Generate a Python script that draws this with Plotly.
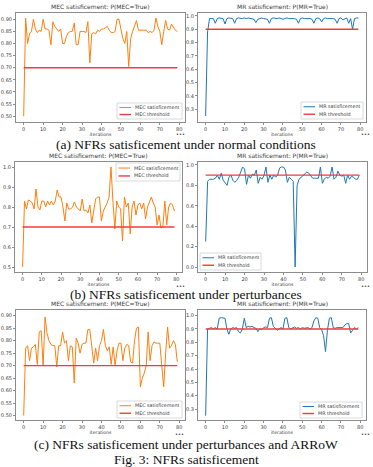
import plotly.graph_objects as go

# ---------------- data ----------------
iterations = list(range(80))

mec_normal = [0.50, 0.905, 0.80, 0.84, 0.85, 0.90, 0.86, 0.845, 0.855, 0.85,
              0.90, 0.86, 0.86, 0.855, 0.795, 0.89, 0.87, 0.86, 0.85, 0.86,
              0.80, 0.80, 0.83, 0.845, 0.85, 0.85, 0.885, 0.795, 0.795, 0.85,
              0.85, 0.85, 0.845, 0.89, 0.72, 0.84, 0.845, 0.84, 0.855, 0.85,
              0.86, 0.86, 0.865, 0.87, 0.855, 0.845, 0.845, 0.85, 0.90, 0.90,
              0.86, 0.82, 0.80, 0.85, 0.705, 0.82, 0.85, 0.87, 0.895, 0.855,
              0.855, 0.855, 0.855, 0.855, 0.845, 0.85, 0.845, 0.855, 0.905, 0.87,
              0.85, 0.795, 0.85, 0.895, 0.86, 0.855, 0.88, 0.865, 0.855, 0.85]

mr_normal = [0.25, 0.88, 0.98, 0.98, 0.98, 0.945, 0.98, 0.985, 0.98, 0.98,
             0.94, 0.98, 0.985, 0.98, 0.98, 0.945, 0.98, 0.985, 0.98, 0.98,
             0.985, 0.98, 0.985, 0.98, 0.98, 0.975, 0.95, 0.975, 0.98, 0.985,
             0.98, 0.98, 0.975, 0.945, 0.98, 0.985, 0.98, 0.98, 0.985, 0.98,
             0.975, 0.98, 0.985, 0.98, 0.98, 0.985, 0.98, 0.975, 0.945, 0.98,
             0.985, 0.98, 0.98, 0.985, 0.98, 0.975, 0.945, 0.98, 0.985, 0.98,
             0.955, 0.98, 0.985, 0.98, 0.98, 0.985, 0.98, 0.975, 0.945, 0.98,
             0.985, 0.97, 0.98, 0.985, 0.945, 0.98, 0.90, 0.98, 0.985, 0.985]

mec_perturb = [0.50, 0.83, 0.79, 0.835, 0.83, 0.82, 0.79, 0.89, 0.80, 0.785,
               0.83, 0.83, 0.80, 0.83, 0.81, 0.83, 0.81, 0.83, 0.885, 0.85,
               0.85, 0.80, 0.73, 0.82, 0.79, 0.79, 0.80, 0.825, 0.80, 0.79,
               0.78, 0.84, 0.78, 0.785, 0.77, 0.81, 0.72, 0.78, 0.84, 0.85,
               0.85, 0.73, 0.78, 0.80, 0.82, 0.85, 1.00, 0.83, 0.69, 0.83,
               0.80, 0.79, 0.63, 0.85, 0.80, 0.82, 0.665, 0.80, 0.83, 0.76,
               0.81, 0.82, 0.79, 0.82, 0.74, 0.80, 0.83, 0.85, 0.82, 0.80,
               0.71, 0.76, 0.695, 0.70, 0.83, 0.71, 0.80, 0.82, 0.81, 0.78]

mr_perturb = [0.25, 0.84, 0.86, 0.86, 0.86, 0.87, 0.90, 0.86, 0.92, 0.85,
              0.82, 0.80, 0.88, 0.90, 0.85, 0.83, 0.85, 0.88, 0.93, 0.98,
              0.96, 0.81, 0.90, 0.87, 0.91, 0.90, 0.95, 0.82, 0.88, 0.86,
              0.90, 0.98, 0.83, 0.90, 0.86, 0.90, 0.88, 0.90, 0.97, 0.98,
              0.98, 0.95, 0.83, 0.88, 0.86, 0.84, 0.00, 0.80, 0.86, 0.88,
              0.90, 0.92, 0.93, 0.92, 0.90, 0.87, 0.87, 0.87, 0.87, 0.98,
              0.82, 0.86, 0.88, 0.87, 0.89, 0.98, 0.86, 0.88, 0.94, 0.90,
              0.89, 0.90, 0.82, 0.90, 0.86, 0.89, 0.88, 0.86, 0.86, 0.90]

mec_arrow = [0.50, 0.77, 0.78, 0.72, 0.77, 0.775, 0.785, 0.705, 0.835, 0.84,
             0.70, 0.895, 0.83, 0.80, 0.785, 0.78, 0.78, 0.695, 0.78, 0.78,
             0.835, 0.79, 0.80, 0.72, 0.78, 0.775, 0.63, 0.81, 0.79, 0.75,
             0.785, 0.79, 0.79, 0.845, 0.845, 0.78, 0.71, 0.77, 0.72, 0.78,
             0.80, 0.845, 0.78, 0.76, 0.775, 0.705, 0.775, 0.70, 0.76, 0.79,
             0.79, 0.72, 0.77, 0.785, 0.78, 0.715, 0.71, 0.80, 0.85, 0.855,
             0.615, 0.65, 0.67, 0.70, 0.835, 0.72, 0.78, 0.795, 0.79, 0.79,
             0.79, 0.70, 0.615, 0.75, 0.855, 0.77, 0.78, 0.80, 0.785, 0.715]

mr_arrow = [0.25, 0.90, 0.905, 0.91, 0.90, 0.91, 0.90, 0.98, 0.985, 0.985,
            0.98, 0.90, 0.86, 0.90, 0.91, 0.905, 0.91, 0.88, 0.87, 0.90,
            0.98, 0.91, 0.92, 0.915, 0.92, 0.91, 0.905, 0.88, 0.90, 0.895,
            0.91, 0.915, 0.91, 0.98, 0.985, 0.92, 0.905, 0.89, 0.90, 0.91,
            0.90, 0.98, 0.985, 0.91, 0.90, 0.91, 0.915, 0.905, 0.91, 0.90,
            0.91, 0.905, 0.905, 0.91, 0.90, 0.91, 0.96, 0.985, 0.98, 0.91,
            0.895, 0.85, 0.73, 0.89, 0.98, 0.985, 0.91, 0.905, 0.91, 0.91,
            0.91, 0.91, 0.93, 0.94, 0.94, 0.87, 0.89, 0.91, 0.90, 0.91]

mec_threshold = 0.70
mr_threshold = 0.90

x_ticks = [0, 10, 20, 30, 40, 50, 60, 70, 80]

captions = ["(a) NFRs satisficement under normal conditions",
            "(b) NFRs satisficement under perturbances",
            "(c) NFRs satisficement under perturbances and ARRoW"]
fig_caption = "Fig. 3: NFRs satisficement"

# ---------------- layout helpers ----------------
W, H = 373, 467
def px(x): return x / W
def py(y): return 1 - y / H

ORANGE = "#ff7f0e"
BLUE = "#1f77b4"
RED = "#f03c3c"
FRAME = "#8c8c8c"
TXT = "#3a3a3a"
SERIF = "Liberation Serif, Times New Roman, DejaVu Serif, serif"

panels = [
    dict(series=mec_normal, thr=mec_threshold, color=ORANGE, kind="MEC",
         frame=(16, 185, 13, 122), yr=[0.476, 0.926], tick0=0.5, dtick=0.05, fmt=".2f",
         leg=(117, 182, 103, 119), dots=(180, 134)),
    dict(series=mr_normal, thr=mr_threshold, color=BLUE, kind="MR",
         frame=(198, 366, 13, 122), yr=[0.205, 1.022], tick0=0.3, dtick=0.1, fmt=".1f",
         leg=(301, 363, 102, 119), dots=(365, 134)),
    dict(series=mec_perturb, thr=mec_threshold, color=ORANGE, kind="MEC",
         frame=(15, 182, 162, 272), yr=[0.475, 1.025], tick0=0.5, dtick=0.1, fmt=".1f",
         leg=(116, 180, 163, 181), dots=(180, 286)),
    dict(series=mr_perturb, thr=mr_threshold, color=BLUE, kind="MR",
         frame=(198, 367, 162, 272), yr=[-0.049, 1.029], tick0=0.0, dtick=0.2, fmt=".1f",
         leg=(200, 261, 253, 270), dots=(365, 286)),
    dict(series=mec_arrow, thr=mec_threshold, color=ORANGE, kind="MEC",
         frame=(16, 185, 310, 420), yr=[0.482, 0.923], tick0=0.5, dtick=0.05, fmt=".2f",
         leg=(117, 182, 401, 418), dots=(179, 433.5)),
    dict(series=mr_arrow, thr=mr_threshold, color=BLUE, kind="MR",
         frame=(198, 366, 310, 420), yr=[0.218, 1.042], tick0=0.3, dtick=0.1, fmt=".1f",
         leg=(300, 362, 402, 418), dots=(365, 433.5)),
]

fig = go.Figure()
shapes = []
annotations = []
layout_axes = {}

for i, p in enumerate(panels, start=1):
    xa = "x" if i == 1 else f"x{i}"
    ya = "y" if i == 1 else f"y{i}"
    xkey = "xaxis" if i == 1 else f"xaxis{i}"
    ykey = "yaxis" if i == 1 else f"yaxis{i}"
    x0, x1, y0, y1 = p["frame"]
    k = p["kind"]

    fig.add_trace(go.Scatter(x=iterations, y=p["series"], mode="lines",
                             line=dict(color=p["color"], width=1),
                             xaxis=xa, yaxis=ya, showlegend=False,
                             name=f"{k} satisficement"))
    fig.add_trace(go.Scatter(x=[iterations[0], iterations[-1]], y=[p["thr"], p["thr"]],
                             mode="lines", line=dict(color=RED, width=1.4),
                             xaxis=xa, yaxis=ya, showlegend=False,
                             name=f"{k} threshold"))

    layout_axes[xkey] = dict(domain=[px(x0), px(x1)], anchor=ya, range=[-3.95, 82.95],
                             tickvals=x_ticks, showgrid=False, zeroline=False,
                             showline=True, mirror=True, linecolor=FRAME, linewidth=1,
                             ticks="outside", ticklen=2, tickcolor=FRAME, tickwidth=0.6,
                             tickfont=dict(size=5, color=TXT, family="DejaVu Sans"),
                             title=dict(text="iterations", standoff=0,
                                        font=dict(size=4.6, color=TXT, family="DejaVu Sans")))
    layout_axes[ykey] = dict(domain=[py(y1), py(y0)], anchor=xa, range=p["yr"],
                             tick0=p["tick0"], dtick=p["dtick"], tickformat=p["fmt"],
                             showgrid=False, zeroline=False,
                             showline=True, mirror=True, linecolor=FRAME, linewidth=1,
                             ticks="outside", ticklen=2, tickcolor=FRAME, tickwidth=0.6,
                             tickfont=dict(size=5, color=TXT, family="DejaVu Sans"))

    # panel title
    annotations.append(dict(text=f"{k} satisficement: P({k}=True)", x=px((x0 + x1) / 2),
                            y=py(y0 - 0.8), xref="paper", yref="paper", xanchor="center",
                            yanchor="bottom", showarrow=False,
                            font=dict(size=6, color=TXT, family="DejaVu Sans")))
    # legend box
    lx0, lx1, ly0, ly1 = p["leg"]
    shapes.append(dict(type="rect", xref="paper", yref="paper", x0=px(lx0), x1=px(lx1),
                       y0=py(ly1), y1=py(ly0), fillcolor="rgba(255,255,255,0.85)",
                       line=dict(color="#d0d0d0", width=0.8)))
    r1 = ly0 + (ly1 - ly0) * 0.28
    r2 = ly0 + (ly1 - ly0) * 0.72
    for yy, col, wd, lab in [(r1, p["color"], 1, f"{k} satisficement"),
                             (r2, RED, 1.4, f"{k} threshold")]:
        shapes.append(dict(type="line", xref="paper", yref="paper", x0=px(lx0 + 2.5),
                           x1=px(lx0 + 14), y0=py(yy), y1=py(yy),
                           line=dict(color=col, width=wd)))
        annotations.append(dict(text=lab, x=px(lx0 + 16), y=py(yy), xref="paper",
                                yref="paper", xanchor="left", yanchor="middle",
                                showarrow=False,
                                font=dict(size=4.8, color=TXT, family="DejaVu Sans")))
    # ellipsis marks
    dx, dy = p["dots"]
    annotations.append(dict(text="•••", x=px(dx), y=py(dy), xref="paper", yref="paper",
                            xanchor="center", yanchor="middle", showarrow=False,
                            font=dict(size=5, color="#222", family="DejaVu Sans")))

for cap, cy in zip(captions, [144.5, 294.5, 444]):
    annotations.append(dict(text=cap, x=px(186), y=py(cy), xref="paper", yref="paper",
                            xanchor="center", yanchor="middle", showarrow=False,
                            font=dict(size=13.5, color="#111", family=SERIF)))
annotations.append(dict(text=fig_caption, x=px(186), y=py(459.5), xref="paper", yref="paper",
                        xanchor="center", yanchor="middle", showarrow=False,
                        font=dict(size=13.5, color="#111", family=SERIF)))

fig.update_layout(width=W, height=H, margin=dict(l=0, r=0, t=0, b=0),
                  paper_bgcolor="white", plot_bgcolor="white",
                  shapes=shapes, annotations=annotations, showlegend=False,
                  **layout_axes)

fig.write_html("out.html")
